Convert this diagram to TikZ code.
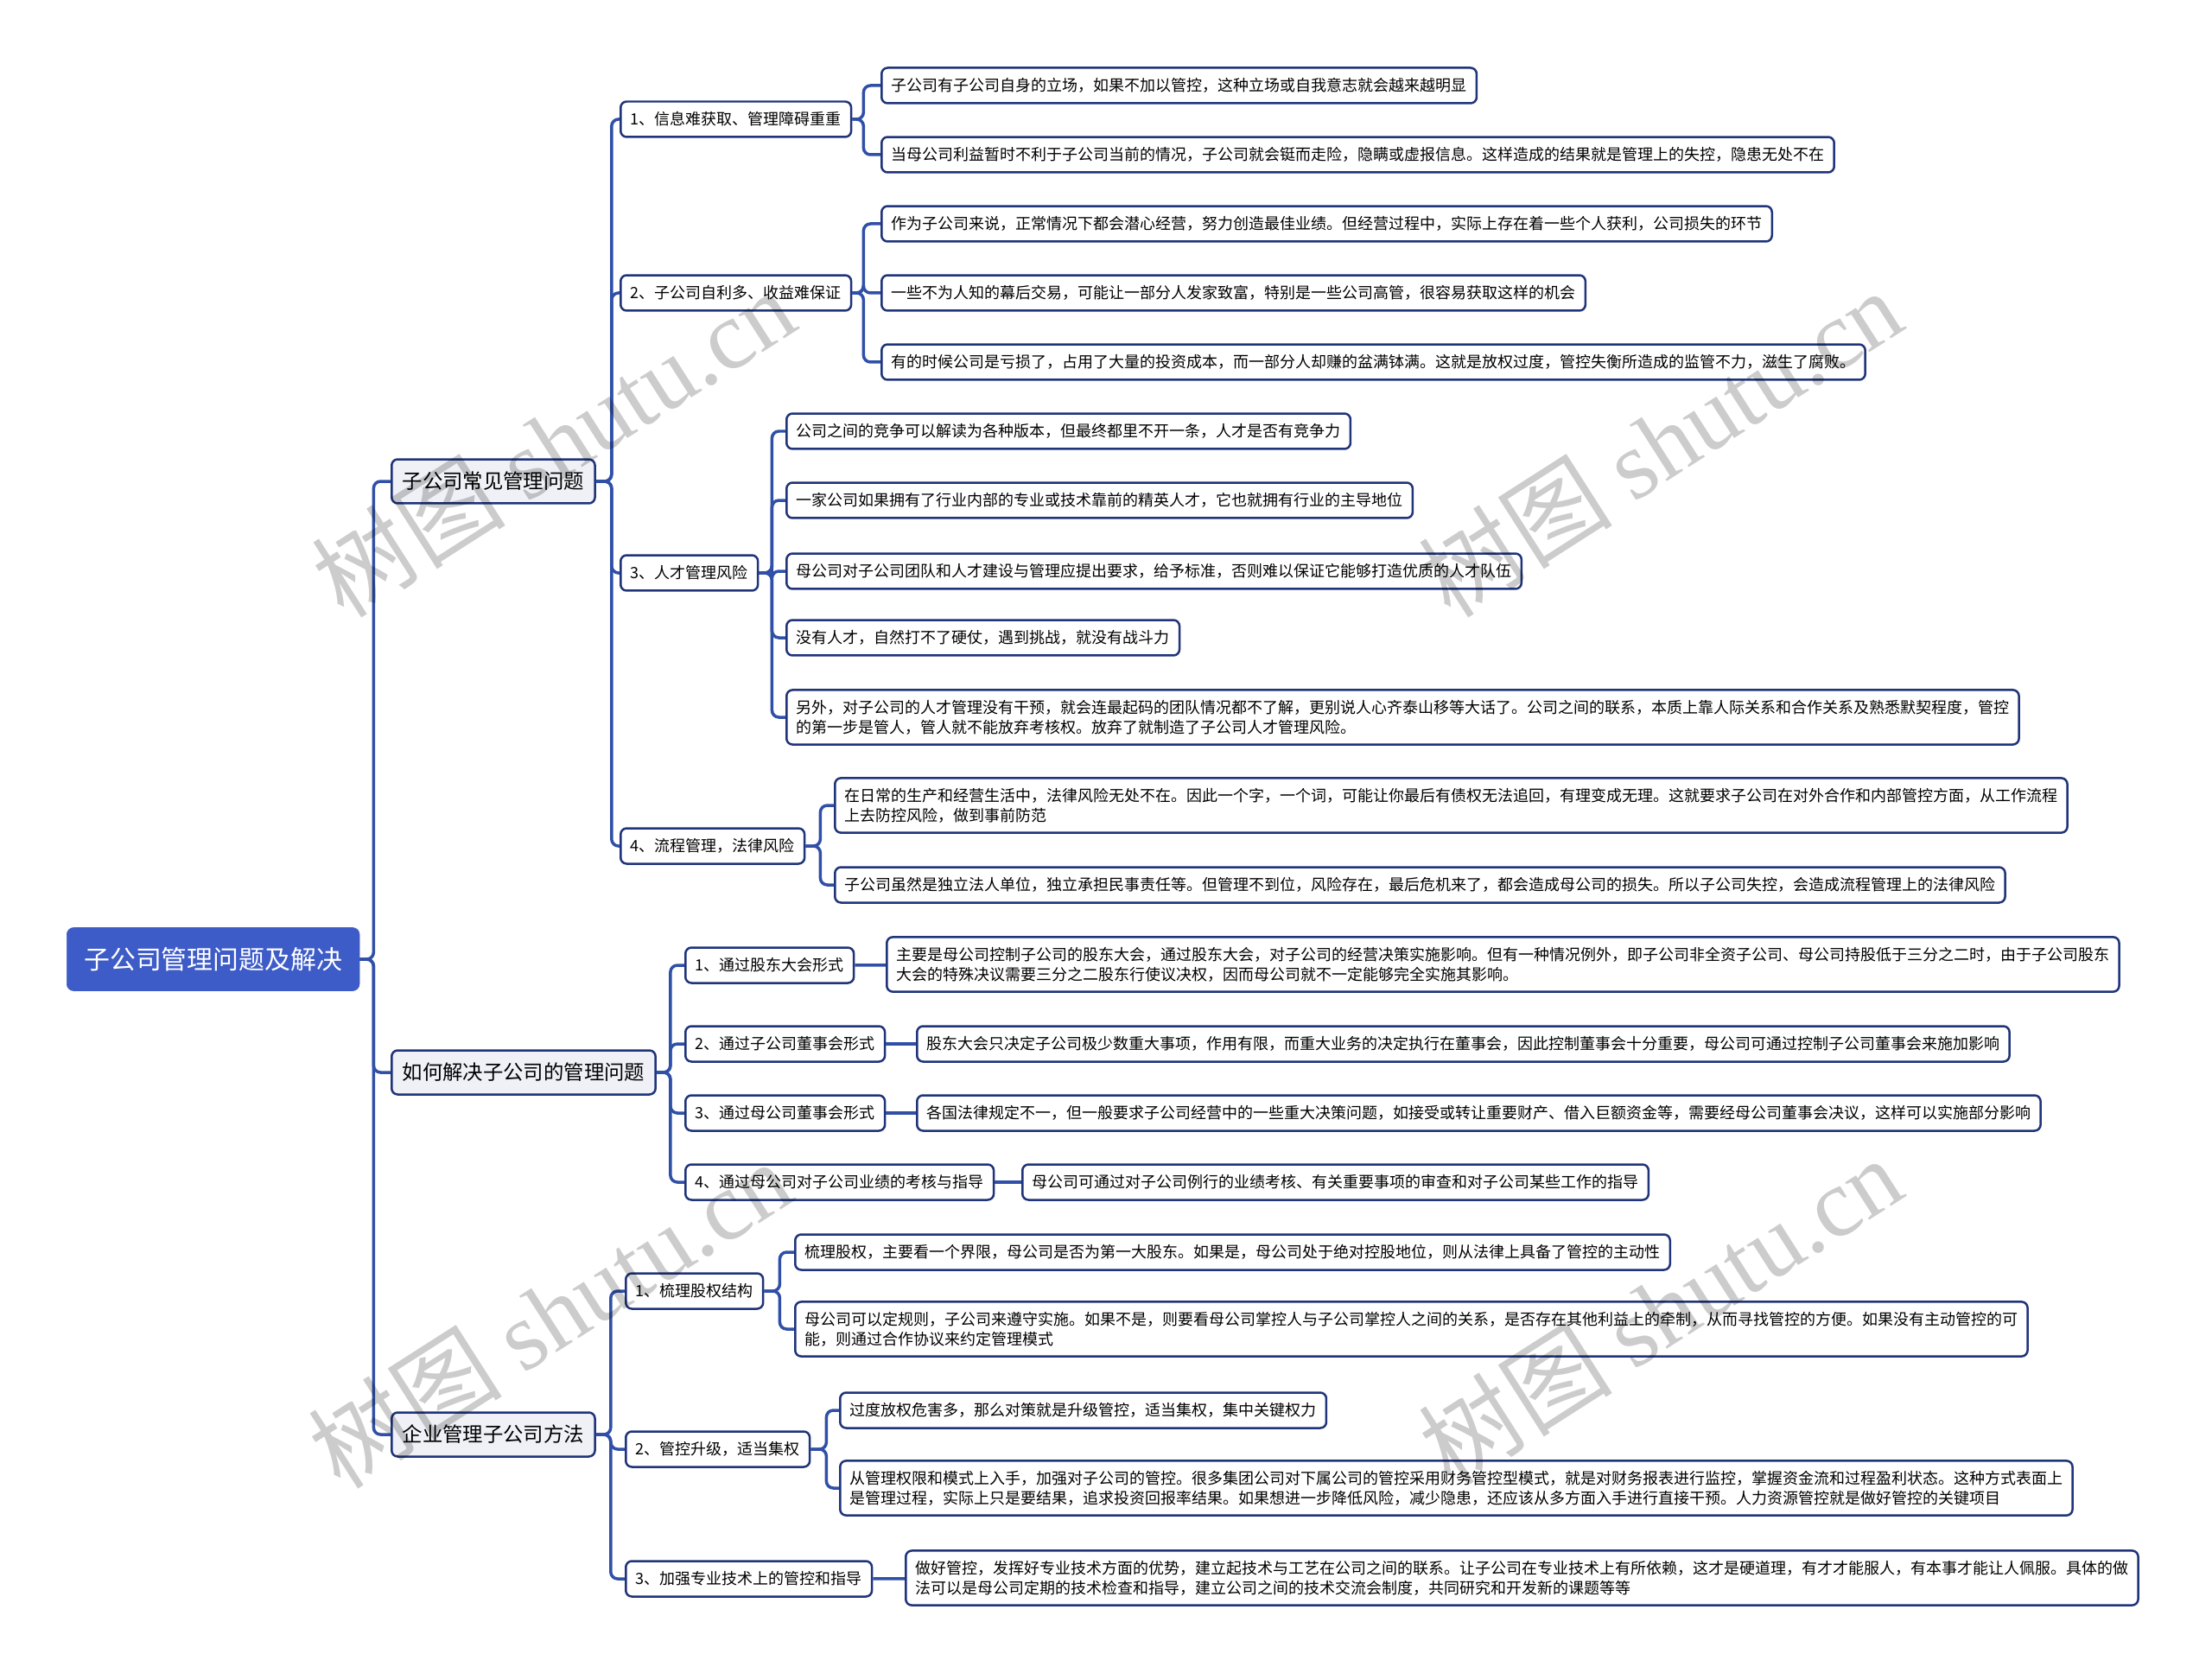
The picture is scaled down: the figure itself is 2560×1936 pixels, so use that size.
\documentclass[tikz,border=0pt]{standalone}
\usepackage{fontspec}
\setmainfont{Noto Sans CJK SC}
\newfontfamily\wmlatin{Liberation Serif}
\usetikzlibrary{positioning}
\definecolor{rootblue}{RGB}{62,92,200}
\definecolor{boxcol}{RGB}{32,52,122}
\definecolor{linkcol}{RGB}{48,80,168}
\definecolor{lvlfill}{RGB}{239,241,246}
\newcommand\leaffont{\fontsize{10.24pt}{13.1pt}\selectfont}
\newcommand\lvlfont{\fontsize{13.3pt}{16pt}\selectfont}
\newcommand\rootfont{\fontsize{17pt}{20pt}\selectfont}
\newcommand\wmfont{\fontsize{64pt}{70pt}\selectfont}

\begin{document}
\begin{tikzpicture}[
  x=0.02cm, y=-0.02cm,
  every node/.style = {font=\leaffont, inner sep=0pt},
  leaf/.style = {rectangle, rounded corners=0.14cm, draw=boxcol, line width=0.05cm,
    fill=white, inner xsep=0.23cm, inner ysep=0.23cm, minimum height=0.82cm,
    align=left, anchor=west},
  sub/.style = {leaf},
  main/.style = {leaf, fill=lvlfill, font=\lvlfont, inner xsep=0.25cm, minimum height=1.02cm},
  rootbox/.style = {rectangle, rounded corners=0.16cm, fill=rootblue, draw=rootblue,
    text=white, font=\rootfont, inner xsep=0.4cm, minimum height=1.46cm, anchor=west},
  link/.style = {draw=linkcol, line width=0.07cm, rounded corners=0.16cm},
  wm/.style = {font=\wmfont, text=black, text opacity=0.2, rotate=32.6}
]
\useasboundingbox (0,0) rectangle (2560,1936);

% root and main branches
\node[rootbox] (root) at (77,1110) {子公司管理问题及解决};
\node[main] (prob) at (452,557)  {子公司常见管理问题};
\node[main] (sol)  at (452,1241) {如何解决子公司的管理问题};
\node[main] (meth) at (452,1660) {企业管理子公司方法};

% branch 1
\node[sub] (prob1) at (717,138) {1、信息难获取、管理障碍重重};
\node[sub] (prob2) at (717,339) {2、子公司自利多、收益难保证};
\node[sub] (prob3) at (717,663) {3、人才管理风险};
\node[sub] (prob4) at (717,979) {4、流程管理，法律风险};

\node[leaf] (p1a) at (1019,99)  {子公司有子公司自身的立场，如果不加以管控，这种立场或自我意志就会越来越明显};
\node[leaf] (p1b) at (1019,179) {当母公司利益暂时不利于子公司当前的情况，子公司就会铤而走险，隐瞒或虚报信息。这样造成的结果就是管理上的失控，隐患无处不在};
\node[leaf] (p2a) at (1019,259) {作为子公司来说，正常情况下都会潜心经营，努力创造最佳业绩。但经营过程中，实际上存在着一些个人获利，公司损失的环节};
\node[leaf] (p2b) at (1019,339) {一些不为人知的幕后交易，可能让一部分人发家致富，特别是一些公司高管，很容易获取这样的机会};
\node[leaf] (p2c) at (1019,419) {有的时候公司是亏损了，占用了大量的投资成本，而一部分人却赚的盆满钵满。这就是放权过度，管控失衡所造成的监管不力，滋生了腐败。};
\node[leaf] (p3a) at (909,499)  {公司之间的竞争可以解读为各种版本，但最终都里不开一条，人才是否有竞争力};
\node[leaf] (p3b) at (909,579)  {一家公司如果拥有了行业内部的专业或技术靠前的精英人才，它也就拥有行业的主导地位};
\node[leaf] (p3c) at (909,661)  {母公司对子公司团队和人才建设与管理应提出要求，给予标准，否则难以保证它能够打造优质的人才队伍};
\node[leaf] (p3d) at (909,738)  {没有人才，自然打不了硬仗，遇到挑战，就没有战斗力};
\node[leaf] (p3e) at (909,830)  {另外，对子公司的人才管理没有干预，就会连最起码的团队情况都不了解，更别说人心齐泰山移等大话了。公司之间的联系，本质上靠人际关系和合作关系及熟悉默契程度，管控\\的第一步是管人，管人就不能放弃考核权。放弃了就制造了子公司人才管理风险。};
\node[leaf] (p4a) at (965,932)  {在日常的生产和经营生活中，法律风险无处不在。因此一个字，一个词，可能让你最后有债权无法追回，有理变成无理。这就要求子公司在对外合作和内部管控方面，从工作流程\\上去防控风险，做到事前防范};
\node[leaf] (p4b) at (965,1024) {子公司虽然是独立法人单位，独立承担民事责任等。但管理不到位，风险存在，最后危机来了，都会造成母公司的损失。所以子公司失控，会造成流程管理上的法律风险};

% branch 2
\node[sub] (sol1) at (792,1117) {1、通过股东大会形式};
\node[sub] (sol2) at (792,1208) {2、通过子公司董事会形式};
\node[sub] (sol3) at (792,1288) {3、通过母公司董事会形式};
\node[sub] (sol4) at (792,1368) {4、通过母公司对子公司业绩的考核与指导};

\node[leaf] (s1a) at (1025,1116) {主要是母公司控制子公司的股东大会，通过股东大会，对子公司的经营决策实施影响。但有一种情况例外，即子公司非全资子公司、母公司持股低于三分之二时，由于子公司股东\\大会的特殊决议需要三分之二股东行使议决权，因而母公司就不一定能够完全实施其影响。};
\node[leaf] (s2a) at (1060,1208) {股东大会只决定子公司极少数重大事项，作用有限，而重大业务的决定执行在董事会，因此控制董事会十分重要，母公司可通过控制子公司董事会来施加影响};
\node[leaf] (s3a) at (1060,1288) {各国法律规定不一，但一般要求子公司经营中的一些重大决策问题，如接受或转让重要财产、借入巨额资金等，需要经母公司董事会决议，这样可以实施部分影响};
\node[leaf] (s4a) at (1182,1368) {母公司可通过对子公司例行的业绩考核、有关重要事项的审查和对子公司某些工作的指导};

% branch 3
\node[sub] (meth1) at (723,1494) {1、梳理股权结构};
\node[sub] (meth2) at (723,1677) {2、管控升级，适当集权};
\node[sub] (meth3) at (723,1827) {3、加强专业技术上的管控和指导};

\node[leaf] (m1a) at (919,1449) {梳理股权，主要看一个界限，母公司是否为第一大股东。如果是，母公司处于绝对控股地位，则从法律上具备了管控的主动性};
\node[leaf] (m1b) at (919,1538) {母公司可以定规则，子公司来遵守实施。如果不是，则要看母公司掌控人与子公司掌控人之间的关系，是否存在其他利益上的牵制，从而寻找管控的方便。如果没有主动管控的可\\能，则通过合作协议来约定管理模式};
\node[leaf] (m2a) at (971,1632) {过度放权危害多，那么对策就是升级管控，适当集权，集中关键权力};
\node[leaf] (m2b) at (971,1722) {从管理权限和模式上入手，加强对子公司的管控。很多集团公司对下属公司的管控采用财务管控型模式，就是对财务报表进行监控，掌握资金流和过程盈利状态。这种方式表面上\\是管理过程，实际上只是要结果，追求投资回报率结果。如果想进一步降低风险，减少隐患，还应该从多方面入手进行直接干预。人力资源管控就是做好管控的关键项目};
\node[leaf] (m3a) at (1047,1826) {做好管控，发挥好专业技术方面的优势，建立起技术与工艺在公司之间的联系。让子公司在专业技术上有所依赖，这才是硬道理，有才才能服人，有本事才能让人佩服。具体的做\\法可以是母公司定期的技术检查和指导，建立公司之间的技术交流会制度，共同研究和开发新的课题等等};

% connectors
\foreach \c in {prob,sol,meth} \draw[link] (root.east) -- ++(16,0) |- (\c.west);
\foreach \c in {prob1,prob2,prob3,prob4} \draw[link] (prob.east) -- ++(18,0) |- (\c.west);
\foreach \c in {p1a,p1b} \draw[link] (prob1.east) -- ++(13,0) |- (\c.west);
\foreach \c in {p2a,p2b,p2c} \draw[link] (prob2.east) -- ++(13,0) |- (\c.west);
\foreach \c in {p3a,p3b,p3c,p3d,p3e} \draw[link] (prob3.east) -- ++(15,0) |- (\c.west);
\foreach \c in {p4a,p4b} \draw[link] (prob4.east) -- ++(17,0) |- (\c.west);
\foreach \c in {sol1,sol2,sol3,sol4} \draw[link] (sol.east) -- ++(16,0) |- (\c.west);
\draw[link] (sol1) -- (s1a);
\draw[link] (sol2) -- (s2a);
\draw[link] (sol3) -- (s3a);
\draw[link] (sol4) -- (s4a);
\foreach \c in {meth1,meth2,meth3} \draw[link] (meth.east) -- ++(17,0) |- (\c.west);
\foreach \c in {m1a,m1b} \draw[link] (meth1.east) -- ++(18,0) |- (\c.west);
\foreach \c in {m2a,m2b} \draw[link] (meth2.east) -- ++(18,0) |- (\c.west);
\draw[link] (meth3) -- (m3a);

% watermarks
\node[wm] (wm1) at (640,512)  {树图 {\wmlatin shutu.cn}};
\node[wm] (wm2) at (1921,512) {树图 {\wmlatin shutu.cn}};
\node[wm] (wm3) at (636,1520) {树图 {\wmlatin shutu.cn}};
\node[wm] (wm4) at (1921,1516) {树图 {\wmlatin shutu.cn}};
\end{tikzpicture}
\end{document}
